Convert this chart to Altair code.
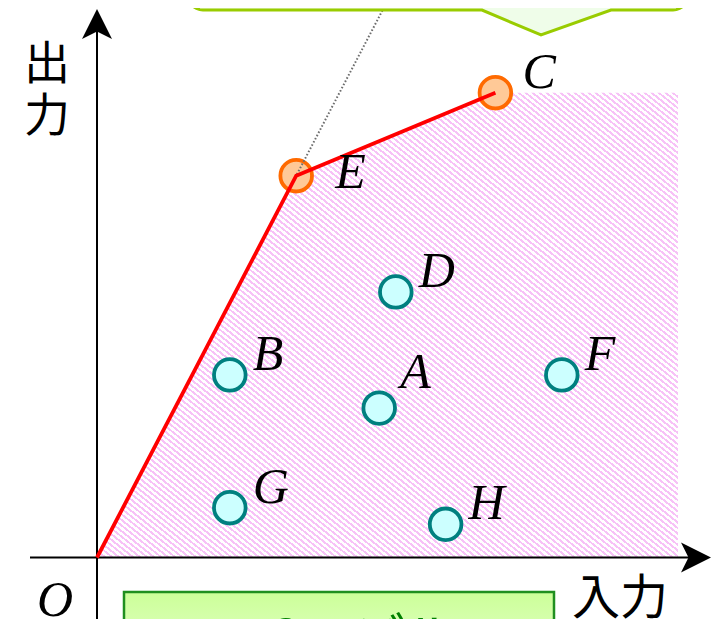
import altair as alt
import pandas as pd
import numpy as np

# ---------------- data ----------------
names = ["A", "B", "C", "D", "E", "F", "G", "H"]
inputs = [8.5, 4, 12, 9, 6, 14, 4, 10.5]
outputs = [4.5, 5.5, 14, 8, 11.5, 5.5, 1.5, 1]
efficient = ["C", "E"]

frontier_x = [0, 6, 12]          # O -> E -> C
frontier_y = [0, 11.5, 14]
region_right = 17.5              # right edge of the production possibility set

x_label = "入力"
y_label = "出力"
origin_label = "O"
model_label = "DRSモデル"

# ---------------- layout (pixel helpers) ----------------
U = 33.2                 # px per unit
OX, OY = 97, 557.5       # origin position in the picture
W, H = 708, 611


def px2x(px):
    return (px - OX) / U


def py2y(py):
    return (OY - py) / U


xs = alt.Scale(domain=[px2x(8), px2x(8 + W)], nice=False, zero=False)
ys = alt.Scale(domain=[py2y(8 + H), py2y(8)], nice=False, zero=False)


def X(f="x"):
    return alt.X(f"{f}:Q", scale=xs, axis=None)


def Y(f="y"):
    return alt.Y(f"{f}:Q", scale=ys, axis=None)


# ---------------- shaded region (striped gradient) ----------------
N = 166
pink = "#f7c2f7"
stops = []
for i in range(N):
    a, b, c = i / N, (i + 0.45) / N, (i + 1) / N
    stops += [alt.GradientStop(offset=round(a, 5), color=pink),
              alt.GradientStop(offset=round(b, 5), color=pink),
              alt.GradientStop(offset=round(b, 5), color="#ffffff"),
              alt.GradientStop(offset=round(c, 5), color="#ffffff")]
hatch = alt.Gradient(gradient="linear", x1=0, y1=1, x2=1, y2=0, stops=stops)

region_df = pd.DataFrame({"x": frontier_x + [region_right],
                          "y": frontier_y + [frontier_y[-1]],
                          "y0": 0})
region = alt.Chart(region_df).mark_area(fill=hatch, interpolate="linear").encode(
    x=X(), y=Y(), y2="y0:Q")

# ---------------- axes ----------------
x_tip = px2x(711)
y_tip = py2y(9)
ah = 15 / U
axes_df = pd.DataFrame({"x": [px2x(30), 0], "x2": [x_tip - ah, 0],
                        "y": [0, py2y(640)], "y2": [0, y_tip - ah]})
axes = alt.Chart(axes_df).mark_rule(color="black", strokeWidth=2, clip=True).encode(
    x=X(), x2="x2:Q", y=Y(), y2="y2:Q")

xarrow = alt.Chart(pd.DataFrame({"x": [x_tip - ah], "y": [0]})).mark_point(
    shape="M1,0L-1,-1L-0.5,0L-1,1Z", filled=True, color="black", opacity=1, size=900
).encode(x=X(), y=Y())
yarrow = alt.Chart(pd.DataFrame({"x": [0], "y": [y_tip - ah]})).mark_point(
    shape="M0,-1L1,1L0,0.5L-1,1Z", filled=True, color="black", opacity=1, size=900
).encode(x=X(), y=Y())

# ---------------- dotted ray O through E ----------------
ray_top = py2y(8)
ray_df = pd.DataFrame({"x": [0, frontier_x[1] / frontier_y[1] * ray_top],
                       "y": [0, ray_top]})
ray = alt.Chart(ray_df).mark_line(color="#6e6e6e", strokeWidth=2,
                                  strokeDash=[1.6, 2], clip=True).encode(x=X(), y=Y())

# ---------------- callout (top) ----------------
cx_left, cx_right = px2x(188), px2x(688)
c_edge = py2y(10)
c_top = py2y(-30)
r = 15 / U
p_left, p_tip, p_right, p_tip_y = px2x(482), px2x(541), px2x(611), py2y(35)
cpts = []
for t in np.linspace(np.pi, 1.5 * np.pi, 8):
    cpts.append((cx_left + r + r * np.cos(t), c_edge + r + r * np.sin(t)))
cpts += [(p_left, c_edge), (p_tip, p_tip_y), (p_right, c_edge)]
for t in np.linspace(1.5 * np.pi, 2 * np.pi, 8):
    cpts.append((cx_right - r + r * np.cos(t), c_edge + r + r * np.sin(t)))
callout_df = pd.DataFrame({"x": [p[0] for p in cpts], "y": [p[1] for p in cpts], "y2": c_top})
callout = alt.Chart(callout_df).mark_area(
    fill="#effde9", stroke="#99cc00", strokeWidth=3, interpolate="linear", clip=True
).encode(x=X(), y=Y(), y2="y2:Q")

# ---------------- model box (bottom) ----------------
box_grad = alt.Gradient(gradient="linear", x1=0, y1=0, x2=0, y2=1,
                        stops=[alt.GradientStop(offset=0, color="#ccff99"),
                               alt.GradientStop(offset=1, color="#e8ffd4")])
box_df = pd.DataFrame({"x": [px2x(124)], "x2": [px2x(554)],
                       "y": [py2y(592)], "y2": [py2y(680)]})
box = alt.Chart(box_df).mark_rect(fill=box_grad, stroke="#1f8f1f", strokeWidth=2.5,
                                  clip=True).encode(x=X(), x2="x2:Q", y=Y(), y2="y2:Q")
box_text = alt.Chart(pd.DataFrame({"x": [px2x(329)], "y": [py2y(657)], "t": [model_label]})).mark_text(
    font="Noto Sans CJK JP", fontSize=52, color="#008000", align="center",
    baseline="alphabetic", clip=True).encode(x=X(), y=Y(), text="t:N")

# ---------------- DMUs ----------------
pts = pd.DataFrame({"name": names, "x": inputs, "y": outputs})
pts["kind"] = ["eff" if n in efficient else "ineff" for n in names]
circles = alt.Chart(pts).mark_point(shape="circle", filled=False, size=1000,
                                    strokeWidth=3.8, opacity=1).encode(
    x=X(), y=Y(),
    fill=alt.Fill("kind:N", scale=alt.Scale(domain=["eff", "ineff"], range=["#ffc997", "#ccffff"]), legend=None),
    stroke=alt.Stroke("kind:N", scale=alt.Scale(domain=["eff", "ineff"], range=["#ff6a00", "#008080"]), legend=None))

frontier = alt.Chart(pd.DataFrame({"x": frontier_x, "y": frontier_y})).mark_line(
    color="#ff0000", strokeWidth=3.8).encode(x=X(), y=Y())

# label offsets (px, right / down of centre)
offs = {"A": (21, -20), "E": (39, 12), "C": (27, -5)}
pts["lx"] = [x + offs.get(n, (23, -5))[0] / U for n, x in zip(names, inputs)]
pts["ly"] = [y - offs.get(n, (23, -5))[1] / U for n, y in zip(names, outputs)]
labels = alt.Chart(pts).mark_text(font="Liberation Serif", fontStyle="italic", fontSize=50,
                                  align="left", baseline="alphabetic", color="black").encode(
    x=X("lx"), y=Y("ly"), text="name:N")

o_text = alt.Chart(pd.DataFrame({"x": [px2x(55)], "y": [py2y(616)], "t": [origin_label]})).mark_text(
    font="Liberation Serif", fontStyle="italic", fontSize=50, align="center",
    baseline="alphabetic", color="black").encode(x=X(), y=Y(), text="t:N")

xl = alt.Chart(pd.DataFrame({"x": [px2x(620)], "y": [py2y(614)], "t": [x_label]})).mark_text(
    font="Noto Sans CJK JP", fontSize=48, align="center", baseline="alphabetic",
    color="black").encode(x=X(), y=Y(), text="t:N")
yl = alt.Chart(pd.DataFrame({"x": [px2x(47), px2x(47)], "y": [py2y(79), py2y(131)],
                             "t": [y_label[0], y_label[1]]})).mark_text(
    font="Noto Sans CJK JP", fontSize=46, align="center", baseline="alphabetic",
    color="black").encode(x=X(), y=Y(), text="t:N")

chart = alt.layer(region, box, box_text, axes, xarrow, yarrow, circles, ray, callout,
                  frontier, labels, o_text, xl, yl).properties(
    width=W, height=H, padding=0, autosize=alt.AutoSizeParams(type="none")
).configure_view(stroke=None)

chart.save("out.html", embed_options={"renderer": "svg", "actions": False})
